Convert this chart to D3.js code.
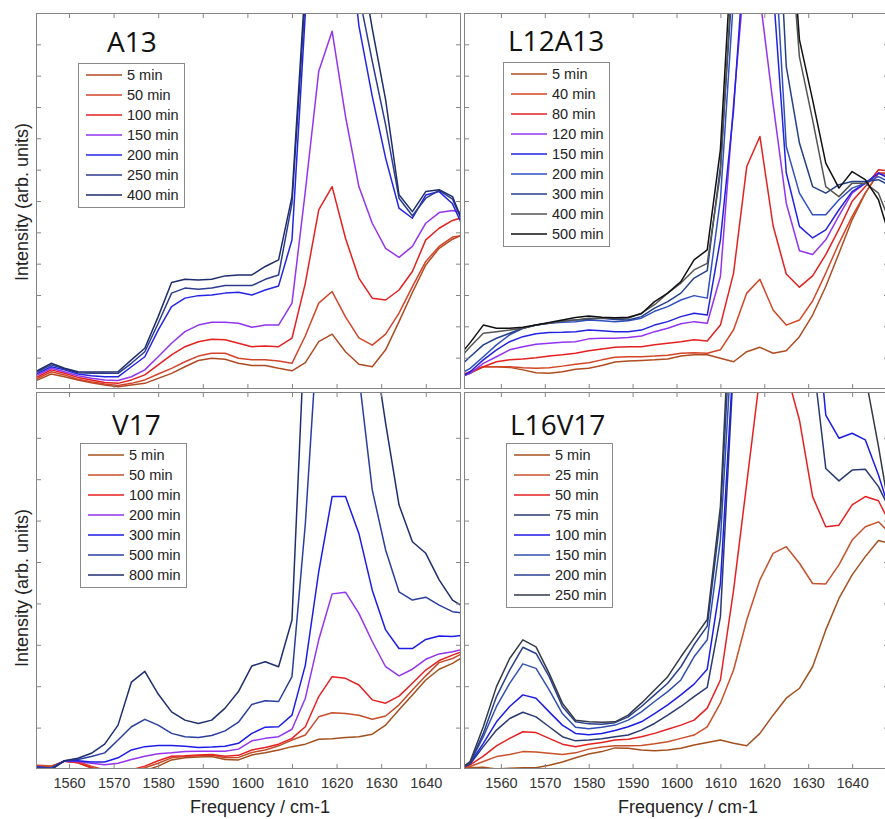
<!DOCTYPE html>
<html><head><meta charset="utf-8">
<script src="https://cdn.jsdelivr.net/npm/d3@7"></script>
<style>body{margin:0;background:#fff} svg{display:block}</style>
</head><body>
<svg id="c" width="885" height="819"></svg>
<script>
// ---------- DATA ----------
const freq = [1551,1553,1556,1559,1562,1565,1568,1571,1574,1577,1580,1583,1586,1589,1592,1595,1598,1601,1604,1607,1610,1613,1616,1619,1622,1625,1628,1631,1634,1637,1640,1643,1646,1649];
const xTickValues = [1560,1570,1580,1590,1600,1610,1620,1630,1640];

const a13Labels = ["5 min","50 min","100 min","150 min","200 min","250 min","400 min"];
const a13Colors = ["#b04a22","#d2442a","#e42020","#9434ee","#2424e6","#2c3c8e","#1e2d6c"];
const a13Values = [
 [0.27,0.29,0.48,0.39,0.29,0.20,0.13,0.07,0.13,0.18,0.34,0.50,0.71,0.91,0.98,0.95,0.82,0.75,0.75,0.66,0.58,0.84,1.51,1.75,1.19,0.79,0.71,1.25,2.15,3.08,3.96,4.49,4.78,4.97],
 [0.32,0.34,0.55,0.45,0.31,0.23,0.16,0.11,0.18,0.29,0.48,0.66,0.87,1.05,1.14,1.14,0.98,0.93,0.93,0.89,0.82,1.70,2.74,3.11,2.30,1.63,1.40,1.75,2.42,3.27,4.07,4.55,4.85,4.92],
 [0.37,0.39,0.61,0.50,0.37,0.29,0.21,0.18,0.29,0.45,0.77,1.09,1.35,1.51,1.59,1.57,1.46,1.35,1.37,1.35,1.62,3.38,5.72,6.46,4.81,3.54,2.90,2.84,3.16,3.75,4.76,5.13,5.38,5.51],
 [0.43,0.45,0.66,0.55,0.42,0.34,0.29,0.27,0.39,0.61,1.03,1.46,1.83,2.04,2.13,2.13,2.10,1.97,2.04,2.04,2.74,6.32,10.14,11.42,8.70,6.46,5.29,4.49,4.20,4.55,5.29,5.63,5.70,5.61],
 [0.48,0.50,0.71,0.61,0.48,0.42,0.39,0.39,0.71,1.03,1.88,2.63,2.90,2.98,3.00,3.06,3.09,3.00,3.16,3.29,4.76,12.0,15.0,17.0,15.5,11.6,9.34,7.37,5.77,5.45,6.19,6.30,5.91,4.97],
 [0.53,0.55,0.77,0.64,0.52,0.50,0.50,0.50,0.82,1.19,2.10,3.06,3.22,3.18,3.22,3.30,3.30,3.30,3.50,3.64,5.93,12.5,16.0,18.0,16.5,12.6,10.46,8.43,6.09,5.53,6.09,6.34,6.06,5.08],
 [0.57,0.59,0.82,0.66,0.55,0.54,0.54,0.55,0.93,1.30,2.31,3.40,3.50,3.48,3.50,3.61,3.64,3.64,3.91,4.12,6.14,13.0,17.0,19.0,17.5,14.0,11.5,9.23,6.20,5.66,6.30,6.36,6.14,5.08]
];

const l12Labels = ["5 min","40 min","80 min","120 min","150 min","200 min","300 min","400 min","500 min"];
const l12Colors = ["#b04c20","#d44526","#e42020","#9434ee","#2222e0","#3050c0","#24408a","#555555","#111111"];
const l12Values = [
 [0.39,0.50,0.71,0.71,0.69,0.61,0.52,0.50,0.55,0.63,0.66,0.75,0.86,0.89,0.91,0.93,0.96,1.05,1.09,1.09,0.98,0.87,1.19,1.33,1.14,1.22,1.67,2.36,3.27,4.33,5.40,6.25,6.89,6.84],
 [0.39,0.55,0.71,0.71,0.71,0.68,0.66,0.68,0.73,0.79,0.84,0.93,1.01,1.03,1.03,1.05,1.08,1.14,1.16,1.14,1.25,1.89,3.06,3.50,2.52,2.04,2.20,2.81,3.70,4.65,5.51,6.25,6.89,6.89],
 [0.45,0.55,0.71,0.87,0.93,0.96,1.00,1.05,1.09,1.14,1.22,1.28,1.33,1.35,1.35,1.41,1.46,1.51,1.57,1.53,2.04,3.70,7.10,8.06,5.21,3.67,3.25,3.61,4.29,5.10,5.99,6.46,7.00,6.94],
 [0.39,0.50,0.82,1.03,1.25,1.35,1.43,1.46,1.49,1.51,1.60,1.62,1.62,1.64,1.69,1.83,1.94,2.08,2.15,2.10,3.59,9.1,14.0,12.5,9.1,5.93,4.41,4.29,4.76,5.53,6.25,6.57,6.89,6.73],
 [0.39,0.55,0.93,1.25,1.51,1.67,1.76,1.80,1.81,1.83,1.88,1.86,1.83,1.83,1.88,2.04,2.15,2.31,2.42,2.36,4.76,8.91,15.0,16.0,12.8,6.9,5.19,4.82,5.08,5.72,6.30,6.57,6.89,6.68],
 [0.50,0.66,1.03,1.41,1.73,1.94,2.04,2.10,2.13,2.15,2.20,2.18,2.15,2.18,2.26,2.48,2.63,2.84,2.98,2.90,6.04,12.5,17.0,18.0,15.0,7.74,6.25,5.56,5.56,6.04,6.41,6.57,6.78,6.57],
 [0.77,1.03,1.41,1.62,1.78,1.94,2.04,2.11,2.17,2.20,2.23,2.26,2.22,2.20,2.31,2.58,2.79,3.06,3.54,3.78,7.10,13.5,18.0,19.5,18.5,10.3,7.85,6.46,6.25,6.52,6.62,6.62,6.68,6.46],
 [1.03,1.35,1.78,1.83,1.88,1.94,2.04,2.10,2.17,2.20,2.26,2.26,2.26,2.26,2.42,2.69,3.06,3.38,3.80,4.01,6.89,14.0,19.0,21.0,20.0,16.0,10.6,8.59,6.46,6.14,6.57,6.57,6.25,5.19],
 [1.14,1.48,2.04,1.94,1.94,1.97,2.04,2.12,2.20,2.28,2.33,2.29,2.27,2.29,2.40,2.79,3.06,3.43,4.12,4.44,7.64,15.0,20.0,22.0,21.0,17.0,11.15,9.23,7.21,6.41,6.94,6.68,6.04,4.65]
];

const v17Labels = ["5 min","50 min","100 min","200 min","300 min","500 min","800 min"];
const v17Colors = ["#a4501e","#c44e2a","#e62020","#9434ee","#1c1ce6","#2a3ea0","#1e2e70"];
const v17Values = [
 [0.07,0.07,0.06,0.19,0.15,0.03,-0.04,-0.10,-0.12,-0.04,0.07,0.22,0.27,0.29,0.30,0.23,0.22,0.34,0.39,0.46,0.54,0.60,0.72,0.73,0.76,0.78,0.84,1.06,1.43,1.79,2.15,2.41,2.55,2.75],
 [0.10,0.09,0.07,0.19,0.18,0.07,-0.02,-0.06,-0.06,0.03,0.14,0.27,0.30,0.32,0.34,0.27,0.28,0.40,0.46,0.56,0.70,0.82,1.26,1.36,1.34,1.30,1.20,1.28,1.55,1.91,2.25,2.57,2.67,2.83],
 [0.06,0.05,0.02,0.19,0.15,0.03,-0.06,-0.08,-0.02,0.07,0.20,0.31,0.32,0.34,0.35,0.31,0.33,0.46,0.52,0.60,0.74,1.02,1.75,2.23,2.19,2.03,1.67,1.59,1.76,2.07,2.39,2.62,2.75,2.87],
 [0.06,0.05,0.02,0.19,0.18,0.14,0.10,0.14,0.23,0.31,0.37,0.39,0.42,0.43,0.43,0.43,0.48,0.68,0.74,0.78,0.96,1.71,3.12,4.23,4.27,3.76,3.08,2.47,2.25,2.41,2.65,2.78,2.83,2.91],
 [0.06,0.05,0.02,0.20,0.20,0.17,0.17,0.27,0.46,0.54,0.57,0.57,0.55,0.52,0.53,0.55,0.62,0.86,1.01,1.02,1.30,2.51,4.77,6.58,6.58,5.69,4.32,3.36,2.91,2.91,3.13,3.21,3.20,3.24],
 [0.04,0.04,0.02,0.20,0.23,0.30,0.39,0.70,1.02,1.20,1.06,0.86,0.78,0.76,0.81,0.92,1.13,1.56,1.65,1.63,2.23,5.93,11.0,14.0,13.0,9.5,6.74,5.29,4.28,4.08,4.15,3.96,3.80,3.76],
 [-0.02,-0.02,-0.02,0.20,0.26,0.38,0.60,1.06,2.10,2.36,1.81,1.38,1.18,1.10,1.18,1.47,1.87,2.49,2.59,2.47,3.60,11.0,15.0,18.0,17.0,14.0,10.5,8.35,6.38,5.49,5.21,4.57,4.08,3.88]
];

const l16Labels = ["5 min","25 min","50 min","75 min","100 min","150 min","200 min","250 min"];
const l16Colors = ["#a4501e","#c8502a","#e62020","#2a3a70","#1c1ce8","#3050b0","#2a4090","#333a45"];
const l16Values = [
 [0.02,0.03,0.04,0.00,0.02,0.03,0.03,0.09,0.17,0.27,0.36,0.42,0.51,0.50,0.46,0.44,0.46,0.50,0.58,0.64,0.70,0.62,0.56,0.86,1.30,1.71,1.95,2.47,3.36,4.12,4.69,5.13,5.52,5.43],
 [0.02,0.06,0.18,0.30,0.35,0.42,0.41,0.38,0.35,0.39,0.48,0.53,0.56,0.56,0.57,0.61,0.66,0.74,0.82,1.02,1.59,2.39,3.60,4.57,5.21,5.37,4.97,4.48,4.47,4.93,5.53,5.85,5.97,5.65],
 [0.02,0.10,0.31,0.56,0.74,0.90,0.88,0.74,0.60,0.54,0.60,0.64,0.70,0.72,0.78,0.86,0.96,1.06,1.18,1.47,2.15,4.32,6.90,9.5,10.5,9.6,8.43,6.58,5.85,5.89,6.38,6.58,6.48,5.85],
 [0.02,0.12,0.54,0.94,1.22,1.37,1.26,1.02,0.78,0.68,0.70,0.73,0.78,0.82,0.94,1.10,1.30,1.51,1.75,1.97,3.68,9.8,12,13,14,13,12,10,7.26,6.96,7.22,7.24,6.82,6.18],
 [0.02,0.14,0.62,1.14,1.51,1.79,1.71,1.38,1.06,0.86,0.83,0.86,0.93,1.02,1.14,1.34,1.55,1.79,2.05,2.41,4.48,10,13,14.5,15.5,15,14,12,8.55,7.99,8.11,7.95,7.10,6.09],
 [0.02,0.15,0.78,1.51,2.07,2.54,2.43,1.91,1.34,1.01,0.97,1.01,1.06,1.18,1.38,1.63,1.87,2.15,2.71,3.12,5.53,11,14,16,17,17,16,14,12,11,10.5,10,9.5,9.2],
 [0.02,0.16,0.86,1.75,2.39,2.94,2.79,2.23,1.51,1.14,1.09,1.08,1.12,1.26,1.51,1.79,2.07,2.47,3.00,3.45,6.09,12,15,17,18,18,17,15,13,12,11.5,11,9.6,9.0],
 [0.02,0.18,1.02,1.99,2.67,3.12,2.95,2.31,1.59,1.18,1.14,1.13,1.14,1.30,1.59,1.91,2.23,2.71,3.16,3.61,6.34,13,16,18,19,19,18,16,14,12,10.5,9.5,7.79,5.93]
];

// ---------- LAYOUT ----------
const panels = [
 {title:"A13", labels:a13Labels, colors:a13Colors, values:a13Values,
  x:36, y:13, w:425, h:376, xDom:[1552.6,1647.9], yMax:12, yTicks:d3.range(1,12),
  tickLabels:false, legend:{x:42, y:50, w:106}, tpos:{x:71, y:39}},
 {title:"L12A13", labels:l12Labels, colors:l12Colors, values:l12Values,
  x:464, y:13, w:425, h:376, xDom:[1551.6,1648.4], yMax:12, yTicks:d3.range(1,12),
  tickLabels:false, legend:{x:39, y:49, w:106}, tpos:{x:44, y:38}},
 {title:"V17", labels:v17Labels, colors:v17Colors, values:v17Values,
  x:36, y:392, w:425, h:377, xDom:[1552.6,1647.9], yMax:9.106, yTicks:d3.range(1,9),
  tickLabels:true, legend:{x:44, y:51, w:106}, tpos:{x:76, y:43}},
 {title:"L16V17", labels:l16Labels, colors:l16Colors, values:l16Values,
  x:464, y:392, w:425, h:377, xDom:[1551.6,1648.4], yMax:9.106, yTicks:d3.range(1,9),
  tickLabels:true, legend:{x:42, y:51, w:106}, tpos:{x:46, y:43}}
];

const svg = d3.select("#c");
const frameColor = "#858585";
const sans = "'Liberation Sans', Arial, Helvetica, sans-serif";

panels.forEach((p, pi) => {
  const g = svg.append("g").attr("transform", `translate(${p.x},${p.y})`);
  const xs = d3.scaleLinear().domain(p.xDom).range([0, p.w]);
  const ys = d3.scaleLinear().domain([0, p.yMax]).range([p.h, 0]);

  const cid = "clip" + pi;
  g.append("clipPath").attr("id", cid).append("rect")
    .attr("x", 0).attr("y", 0).attr("width", p.w).attr("height", p.h);

  const line = d3.line().x((d, i) => xs(freq[i])).y(d => ys(d));
  const lg = g.append("g").attr("clip-path", `url(#${cid})`);
  p.values.forEach((vals, si) => {
    lg.append("path").datum(vals).attr("d", line)
      .attr("fill", "none").attr("stroke", p.colors[si])
      .attr("stroke-width", 1.5).attr("stroke-linejoin", "round");
  });

  // axes (ticks inward, mirrored)
  const tl = 5;
  const axB = d3.axisBottom(xs).tickValues(xTickValues).tickSizeInner(-tl).tickSizeOuter(0).tickPadding(9).tickFormat(d3.format("d"));
  const axT = d3.axisTop(xs).tickValues(xTickValues).tickSizeInner(-tl).tickSizeOuter(0).tickFormat("");
  const axL = d3.axisLeft(ys).tickValues(p.yTicks).tickSizeInner(-tl).tickSizeOuter(0).tickFormat("");
  const axR = d3.axisRight(ys).tickValues(p.yTicks).tickSizeInner(-tl).tickSizeOuter(0).tickFormat("");
  const gb = g.append("g").attr("transform", `translate(0,${p.h})`).call(axB);
  if (!p.tickLabels) gb.selectAll("text").remove();
  g.append("g").call(axT);
  g.append("g").call(axL);
  g.append("g").attr("transform", `translate(${p.w},0)`).call(axR);
  g.selectAll(".domain").remove();
  g.selectAll(".tick line").attr("stroke", frameColor);
  g.selectAll(".tick text").attr("font-family", sans).attr("font-size", "14.5px").attr("fill", "#333");

  g.append("rect").attr("x", 0.5).attr("y", 0.5).attr("width", p.w - 1).attr("height", p.h - 1)
    .attr("fill", "none").attr("stroke", frameColor).attr("stroke-width", 1);

  // title
  g.append("text").attr("x", p.tpos.x).attr("y", p.tpos.y).text(p.title)
    .attr("font-family", "'Open Sans', 'Noto Sans', sans-serif").attr("font-size", "28px").attr("fill", "#111");

  // legend
  const L = p.legend, rowH = 20;
  const lgd = g.append("g").attr("transform", `translate(${L.x},${L.y})`);
  lgd.append("rect").attr("x", 0.5).attr("y", 0.5).attr("width", L.w).attr("height", p.labels.length * rowH + 4)
    .attr("fill", "#fff").attr("stroke", "#8a8a8a").attr("stroke-width", 1);
  p.labels.forEach((lab, i) => {
    const cy = 12 + i * rowH;
    lgd.append("line").attr("x1", 8).attr("x2", 44).attr("y1", cy).attr("y2", cy)
      .attr("stroke", p.colors[i]).attr("stroke-width", 1.5);
    lgd.append("text").attr("x", 49).attr("y", cy + 5).text(lab)
      .attr("font-family", sans).attr("font-size", "14.5px").attr("fill", "#222");
  });
});

// axis titles
[{x:260},{x:688}].forEach(t => {
  svg.append("text").attr("x", t.x).attr("y", 813).attr("text-anchor", "middle")
    .attr("font-family", sans).attr("font-size", "18px").attr("fill", "#222").text("Frequency / cm-1");
});
[{y:202},{y:588}].forEach(t => {
  svg.append("text").attr("transform", `translate(28,${t.y}) rotate(-90)`).attr("text-anchor", "middle")
    .attr("font-family", sans).attr("font-size", "18px").attr("fill", "#222").text("Intensity (arb. units)");
});
</script>
</body></html>
